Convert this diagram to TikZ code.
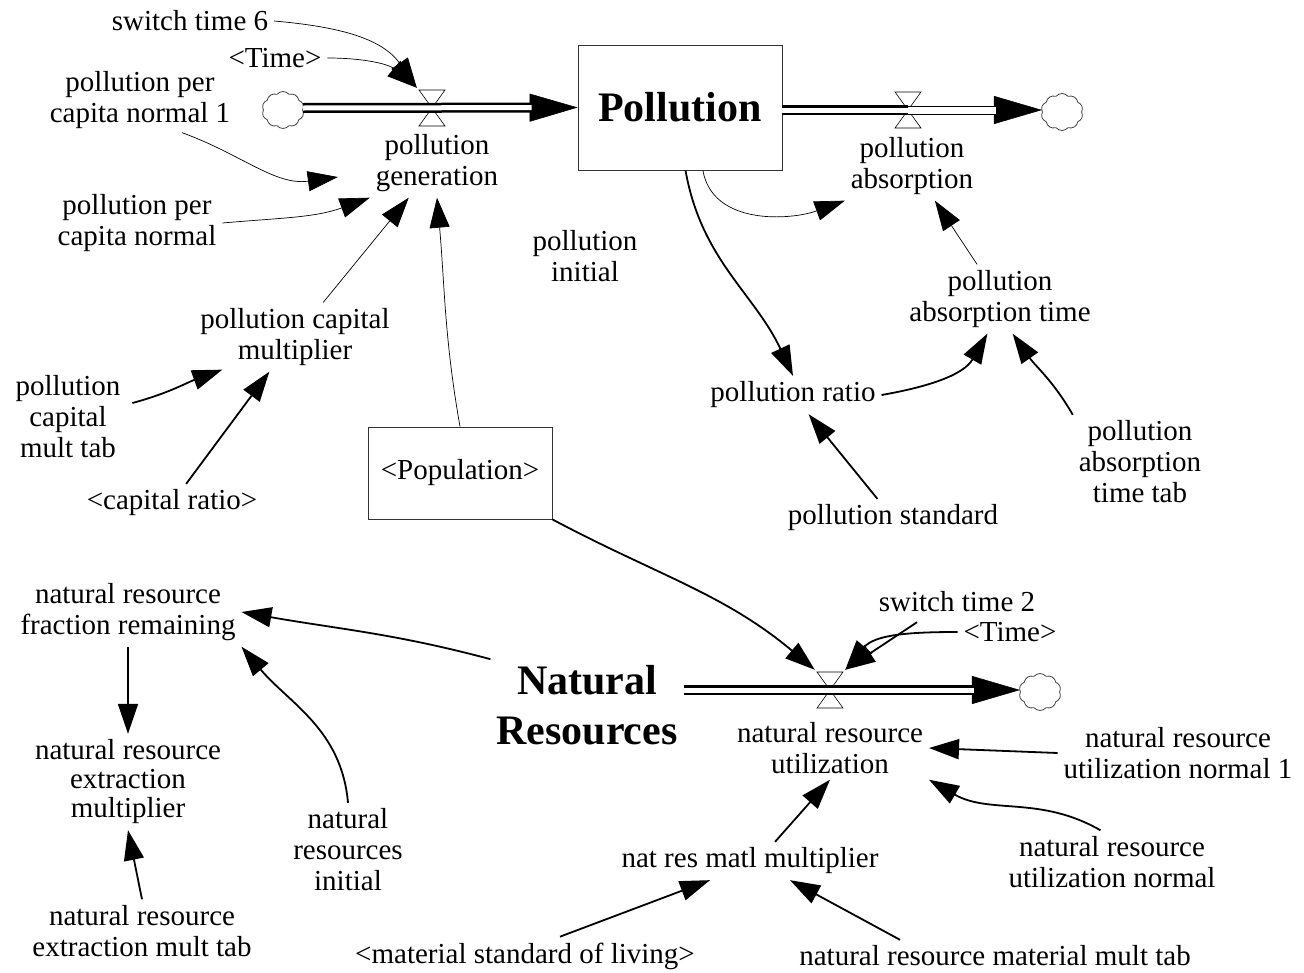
\documentclass[tikz,border=0pt]{standalone}
\usepackage{fontspec}
\setmainfont{Liberation Serif}
\usetikzlibrary{arrows.meta,shapes.symbols,calc}

\tikzset{
  var/.style={align=center, inner sep=2pt, outer sep=4pt},
  lnk/.style={-{Triangle[length=30pt,width=20pt]}, line width=0.7pt},
  lnkb/.style={-{Triangle[length=30pt,width=20pt]}, line width=1.8pt},
  pipe/.style={double=white, double distance=5pt, line width=2.5pt},
  pipethin/.style={double=white, double distance=7pt, line width=1pt},
  pipetip/.style={-{Triangle[length=48pt,width=28pt]}, line width=0.5pt},
  cloudy/.style={cloud, cloud puffs=10, cloud puff arc=100, draw=black!75,
    line width=0.8pt, minimum width=42pt, minimum height=37pt, inner sep=0pt},
  valve/.style={minimum width=30pt, minimum height=40pt, inner sep=0pt,
    path picture={\draw[line width=0.6pt] (path picture bounding box.center)
      ++(-13pt,18pt) -- ++(26pt,0pt) -- ++(-26pt,-36pt) -- ++(26pt,0pt) -- cycle;}},
  stock/.style={draw=black!80, line width=0.8pt, minimum width=204pt,
    minimum height=125pt, font=\fontsize{42}{44}\selectfont\bfseries},
  shadowvar/.style={draw=black!80, line width=0.8pt, minimum width=184pt,
    minimum height=92pt}
}

\begin{document}
\begin{tikzpicture}[x=1pt,y=1pt,font=\fontsize{29}{31}\selectfont]
\useasboundingbox (0,0) rectangle (1304,-972);

% pollution sector
\node[var] (sw6) at (190,-21) {switch time 6};
\node[var] (time1) at (275,-58) {<Time>};
\node[var] (ppcn1) at (140,-100) {pollution per\\capita normal 1};
\node[cloudy] (cl1) at (283,-110) {};
\node[valve] (v1) at (432,-108) {};
\node[var] (gen) at (437,-163) {pollution\\generation};
\node[stock] (pol) at (680,-107.5) {Pollution};
\node[valve] (v2) at (908,-110) {};
\node[cloudy] (cl2) at (1062,-112) {};
\node[var] (abs) at (912,-166) {pollution\\absorption};
\node[var] (ppcn) at (137,-223) {pollution per\\capita normal};
\node[var] (pinit) at (585,-256) {pollution\\initial};
\node[var] (pat) at (1000,-299) {pollution\\absorption time};
\node[var] (pcm) at (295,-337) {pollution capital\\multiplier};
\node[var] (pcmt) at (68,-417) {pollution\\capital\\mult tab};
\node[var] (pr) at (793,-395) {pollution ratio};
\node[var] (patt) at (1140,-462) {pollution\\absorption\\time tab};
\node[shadowvar] (popu) at (460,-473) {<Population>};
\node[var] (cr) at (172,-503) {<capital ratio>};
\node[var] (ps) at (893,-518) {pollution standard};

% natural resources sector
\node[var] (nrfr) at (128,-612) {natural resource\\fraction remaining};
\node[var] (sw2) at (957,-602) {switch time 2};
\node[var] (time2) at (1010,-632) {<Time>};
\node[var, font=\fontsize{42}{50}\selectfont\bfseries] (nr) at (587,-705) {Natural\\Resources};
\node[valve] (v3) at (830,-690) {};
\node[cloudy] (cl3) at (1040,-692) {};
\node[var] (nru) at (830,-748) {natural resource\\utilization};
\node[var, font=\fontsize{29}{29}\selectfont] (nrem) at (128,-782) {natural resource\\extraction\\multiplier};
\node[var] (nrun1) at (1178,-753) {natural resource\\utilization normal 1};
\node[var] (nri) at (348,-850) {natural\\resources\\initial};
\node[var] (nrmm) at (750,-861) {nat res matl multiplier};
\node[var] (nrun) at (1112,-862) {natural resource\\utilization normal};
\node[var] (nremt) at (142,-931) {natural resource\\extraction mult tab};
\node[var] (msl) at (525,-956) {<material standard of living>};
\node[var] (nrmmt) at (995,-956) {natural resource material mult tab};

% flows
\draw[pipetip] (v1.center) -- (pol.west);
\draw[pipe, shorten >=46pt] (cl1.east |- v1.center) -- (pol.west);
\draw[pipetip] (v2.center) -- (cl2.west |- v2.center);
\draw[pipe] (pol.east |- v2.center) -- (v2.center);
\draw[pipethin, shorten >=46pt] (v2.center) -- (cl2.west |- v2.center);
\draw[pipetip] (v3.center) -- (cl3.west |- v3.center);
\draw[pipe, shorten >=46pt] (nr.east |- v3.center) -- (cl3.west |- v3.center);

% links
\draw[lnk] (sw6.east) to[out=-5,in=125] (v1.north west);
\draw[lnk] (time1.east) to[out=0,in=140] (v1.north west);
\draw[lnk] ($(ppcn1.south)+(42,2)$) to[out=-20,in=188] ($(gen.west)+(-32,-14)$);
\draw[lnk] (ppcn.east) to[out=5,in=200] (gen.south west);
\draw[lnk] (pcm) -- (gen);
\draw[lnk] (popu.north) to[out=100,in=-85] (gen.south);
\draw[lnk] (pol.-70) to[out=-80,in=200] (abs.south west);
\draw[lnk] (pat) -- (abs);
\draw[lnkb] (pol.-85) to[out=-80,in=115] (pr.north);
\draw[lnkb] (pr.east) to[out=10,in=-120] (pat.-110);
\draw[lnkb] (patt.north west) to[out=120,in=-55] (pat.-70);
\draw[lnkb] (ps) -- (pr);
\draw[lnkb] ($(pcmt.east)+(6,14)$) to[out=15,in=200] ($(pcm.south west)+(28,2)$);
\draw[lnkb] (cr) -- (pcm);
\draw[lnkb] (popu.south east) to[out=-28,in=140] (v3.north west);
\draw[lnkb] ($(sw2.south)+(-40,-4)$) -- (v3.north east);
\draw[lnkb] (time2.west) to[out=180,in=50] (v3.north east);
\draw[lnkb] (nr.north west) to[out=165,in=-10] (nrfr.east);
\draw[lnkb] (nri.north) to[out=95,in=-50] (nrfr.south east);
\draw[lnkb] (nrfr.south) -- (nrem.north);
\draw[lnkb] (nremt.north) -- (nrem.south);
\draw[lnkb] (nrun1.west) -- (nru.east);
\draw[lnkb] (nrun.110) to[out=150,in=-30] (nru.south east);
\draw[lnkb] ($(nrmm.north)+(25,0)$) -- (nru.south);
\draw[lnkb] ($(msl.north)+(35,0)$) -- ($(nrmm.south)+(-40,0)$);
\draw[lnkb] ($(nrmmt.north)+(-95,0)$) -- ($(nrmm.south)+(40,0)$);
\end{tikzpicture}
\end{document}
